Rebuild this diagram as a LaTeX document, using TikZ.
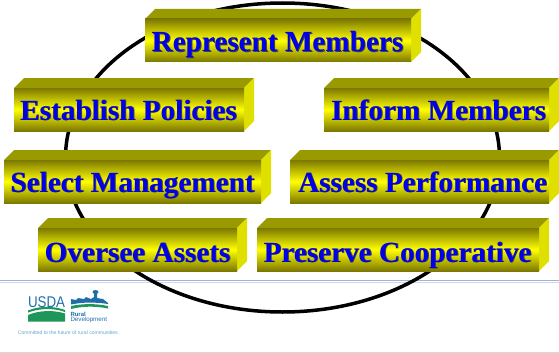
\documentclass[tikz,border=0pt]{standalone}
\usepackage{fontspec}
\setmainfont{Liberation Serif}
\newfontfamily\logofont{Liberation Sans}
\definecolor{c999900}{RGB}{153,153,0}
\definecolor{ce0e000}{RGB}{224,224,0}
\definecolor{c7f7f00}{RGB}{124,120,0}
\definecolor{cffff00}{RGB}{255,255,0}
\definecolor{c0000e6}{RGB}{0,0,235}
\definecolor{c333366}{RGB}{65,65,65}
\definecolor{c9fb2d6}{RGB}{160,178,214}
\definecolor{cd5dded}{RGB}{205,218,235}
\definecolor{cd0d0d0}{RGB}{215,215,215}
\definecolor{c1f6fa8}{RGB}{30,110,170}
\definecolor{c1f9a5a}{RGB}{30,150,90}
\definecolor{c5fa5cf}{RGB}{95,165,205}
\tikzset{
  barfront/.style={top color=c7f7f00,bottom color=c7f7f00,middle color=cffff00,draw=none},
  bartop/.style={fill=c999900},
  barside/.style={fill=ce0e000},
  bartext/.style={font=\fontsize{29.2}{30}\selectfont\bfseries,text=c0000e6,inner sep=0pt,anchor=base},
  barshade/.style={font=\fontsize{29.2}{30}\selectfont\bfseries,text=c333366,inner sep=0pt,anchor=base},
  logotext/.style={anchor=base west,text=c1f6fa8}
}
\begin{document}
\begin{tikzpicture}[y=1pt, x=1pt,yscale=-1, inner sep=0pt, outer sep=0pt]
  \path[use as bounding box] (0,0) rectangle (559,353);
  % footer rules
  \path[draw=c9fb2d6,line width=1pt] (0,280.6) -- (559,280.6);
  \path[draw=cd5dded,line width=1pt] (0,282.4) -- (559,282.4);
  \path[draw=cd0d0d0,line width=0.7pt] (0,352.6) -- (559,352.6);
  % ring behind the bars
  \path[draw=black,line width=3.5pt] (282.5,157.5) ellipse (217pt and 154.5pt);

  % top bar
  \path[bartop] (145,19) -- (155,9) -- (421,9) -- (411,19) -- cycle;
  \path[barside] (411,19) -- (421,9) -- (421,52) -- (411,62) -- cycle;
  \path[barfront] (145,19) rectangle (411,62);
  \path (278.4,52.9) node[barshade] (shadeRepresent) {Represent Members};
  \path (277.5,52) node[bartext] (textRepresent) {Represent Members};

  % second row
  \path[bartop] (14,88) -- (24,78) -- (254,78) -- (244,88) -- cycle;
  \path[barside] (244,88) -- (254,78) -- (254,121) -- (244,131) -- cycle;
  \path[barfront] (14,88) rectangle (244,131);
  \path (129.4,120.9) node[barshade] (shadeEstablish) {Establish Policies};
  \path (128.5,120) node[bartext] (textEstablish) {Establish Policies};

  \path[bartop] (324,88) -- (334,78) -- (559,78) -- (549,88) -- cycle;
  \path[barside] (549,88) -- (559,78) -- (559,121) -- (549,131) -- cycle;
  \path[barfront] (324,88) rectangle (549,131);
  \path (439.4,120.9) node[barshade] (shadeInform) {Inform Members};
  \path (438.5,120) node[bartext] (textInform) {Inform Members};

  % third row
  \path[bartop] (4,160) -- (14,150) -- (271,150) -- (261,160) -- cycle;
  \path[barside] (261,160) -- (271,150) -- (271,193) -- (261,203) -- cycle;
  \path[barfront] (4,160) rectangle (261,203);
  \path (133.4,192.9) node[barshade] (shadeSelect) {Select Management};
  \path (132.5,192) node[bartext] (textSelect) {Select Management};

  \path[bartop] (290,160) -- (300,150) -- (559,150) -- (549,160) -- cycle;
  \path[barside] (549,160) -- (559,150) -- (559,193) -- (549,203) -- cycle;
  \path[barfront] (290,160) rectangle (549,203);
  \path (423.4,192.9) node[barshade] (shadeAssess) {Assess Performance};
  \path (422.5,192) node[bartext] (textAssess) {Assess Performance};

  % bottom row
  \path[bartop] (38,228) -- (48,218) -- (247,218) -- (237,228) -- cycle;
  \path[barside] (237,228) -- (247,218) -- (247,261) -- (237,271) -- cycle;
  \path[barfront] (38,228) rectangle (237,271);
  \path (138.4,262.9) node[barshade] (shadeOversee) {Oversee Assets};
  \path (137.5,262) node[bartext] (textOversee) {Oversee Assets};

  \path[bartop] (257,228) -- (267,218) -- (549,218) -- (539,228) -- cycle;
  \path[barside] (539,228) -- (549,218) -- (549,261) -- (539,271) -- cycle;
  \path[barfront] (257,228) rectangle (539,271);
  \path (398.4,262.9) node[barshade] (shadePreserve) {Preserve Cooperative};
  \path (397.5,262) node[bartext] (textPreserve) {Preserve Cooperative};

  % logo
  \path (28,307) node[logotext,xscale=0.86] (textUsda) {\logofont\fontsize{15.5}{15.5}\selectfont USDA};
  \path[fill=c1f9a5a] (28,310.5) .. controls (40,305.5) and (54,306) .. (65,310) -- (65,312) .. controls (54,308) and (40,308) .. (28,312.5) -- cycle;
  \path[fill=c1f9a5a] (28,315) .. controls (40,310) and (54,310) .. (65,313.5) -- (65,321.5) -- (28,321.5) -- cycle;
  \path[fill=c1f6fa8] (71,303) -- (71,299) -- (76,300) -- (78,298) -- (84,299) -- (86,297) -- (91,299) -- (94,297) -- (94,293) -- (97,293) -- (97,298) -- (103,299) -- (108,303) -- (108,304) .. controls (95,302) and (83,302) .. (71,304.5) -- cycle;
  \path[fill=c1f6fa8] (95.5,292) ellipse (3pt and 2pt);
  \path[fill=c1f9a5a] (71,306) .. controls (83,303.5) and (96,303.5) .. (108,306) -- (108,308.5) .. controls (96,306) and (83,306) .. (71,309) -- cycle;
  \path (70.5,316) node[logotext] (textRural) {\logofont\bfseries\fontsize{6}{6}\selectfont Rural};
  \path (70.5,321.3) node[logotext] (textDevelopment) {\logofont\fontsize{6.2}{6.2}\selectfont Development};
  \path (18,334) node[logotext,text=c5fa5cf] (textCommitted) {\logofont\fontsize{5.05}{5.05}\selectfont Committed to the future of rural communities.};
\end{tikzpicture}
\end{document}
